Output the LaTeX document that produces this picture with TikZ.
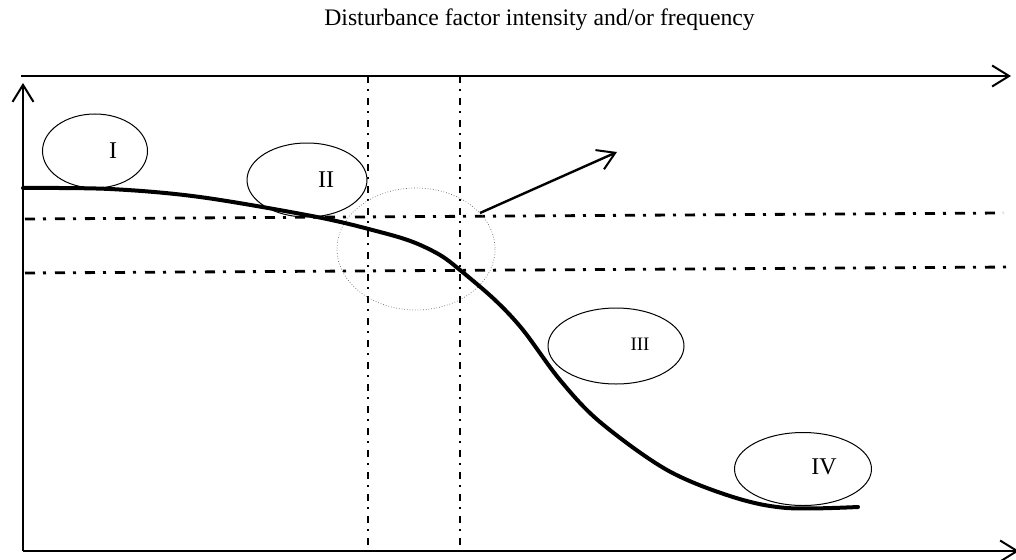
\documentclass[tikz,border=0pt]{standalone}
\usepackage{fontspec}
\setmainfont{Liberation Serif}
\usetikzlibrary{arrows.meta,shapes.geometric}
\begin{document}
\begin{tikzpicture}[x=1pt,y=-1pt,
  axis/.style={line width=2pt},
  barb/.style={-{Straight Barb[length=17pt,width=21pt,line width=2pt]}},
  dashdoth/.style={line width=2.8pt,dash pattern=on 10pt off 8pt on 3pt off 9pt},
  dashdotv/.style={line width=2pt,dash pattern=on 7pt off 6pt on 2pt off 7pt},
  zone/.style={ellipse,draw,line width=1pt,inner sep=0pt},
  lbl/.style={font=\fontsize{24}{24}\selectfont}
]
\useasboundingbox (0,0) rectangle (1016,559);
% title
\node[font=\fontsize{23.7}{28}\selectfont] (title) at (539.5,20) {Disturbance factor intensity and/or frequency};
% coordinates
\coordinate (tl) at (21,76);
\coordinate (tr) at (1011,76);
\coordinate (yb) at (23,551);
\coordinate (yt) at (23,83);
\coordinate (br) at (1019,551);
% dash-dot guide lines
\coordinate (v1t) at (368,76); \coordinate (v1b) at (368,551);
\coordinate (v2t) at (460,76); \coordinate (v2b) at (460,551);
\coordinate (h1l) at (25,219); \coordinate (h1r) at (1003,213);
\coordinate (h2l) at (25,273); \coordinate (h2r) at (1013,267);
\draw[dashdotv] (v1t) -- (v1b);
\draw[dashdotv] (v2t) -- (v2b);
\draw[dashdoth] (h1l) -- (h1r);
\draw[dashdoth] (h2l) -- (h2r);
% axes
\draw[axis,barb] (tl) -- (tr);
\draw[line width=1.5pt,barb] (yb) -- (yt);
\draw[axis,line width=2.4pt,barb] (yb) -- (br);
% ellipses
\draw[draw=black!60,line width=0.7pt,dotted] (416,249) ellipse [x radius=79,y radius=61];
\node[zone,minimum width=105pt,minimum height=74pt] (e1) at (95,151) {};
\node[lbl] (l1) at (113,151) {I};
\node[zone,minimum width=120pt,minimum height=74pt] (e2) at (307,180) {};
\node[lbl] (l2) at (326,180) {II};
\node[zone,minimum width=136pt,minimum height=76pt] (e3) at (616,346) {};
\node[font=\fontsize{19}{19}\selectfont] (l3) at (640,344) {III};
\node[zone,minimum width=137pt,minimum height=73pt] (e4) at (803,469) {};
\node[lbl] (l4) at (824,467) {IV};
% response curve
\draw[line width=4pt,line cap=round] plot[smooth,tension=0.55] coordinates {(23,188) (110,189) (200,197) (317,217) (380,232) (413,242) (440,255) (460,270) (495,300) (523,330) (560,380) (600,422) (667,470) (733,497) (787,508) (858,507)};
% arrow from zone of transition
\coordinate (as) at (480,213);
\coordinate (ae) at (617,152);
\draw[line width=2.4pt,barb] (as) -- (ae);
\end{tikzpicture}
\end{document}
